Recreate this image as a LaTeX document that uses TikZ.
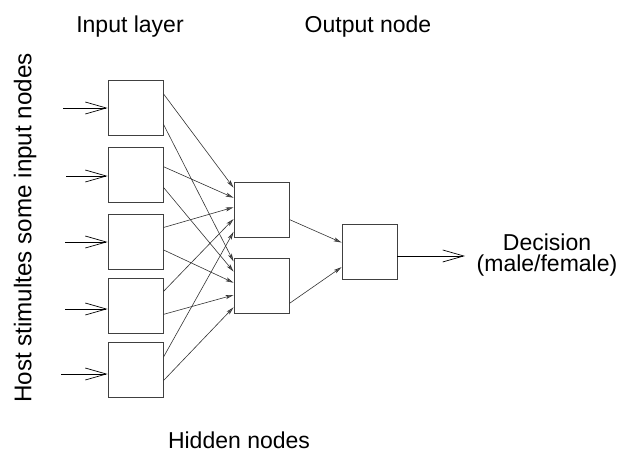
\documentclass[tikz,border=0pt]{standalone}
\usepackage{fontspec}
\setmainfont{Liberation Sans}
\usetikzlibrary{arrows.meta,calc}
\begin{document}
\begin{tikzpicture}[x=1pt,y=-1pt,
  unit/.style={draw=black!75,line width=0.9pt,minimum width=55pt,minimum height=55pt,inner sep=0pt,fill=white},
  lbl/.style={font=\fontsize{23}{21}\selectfont,inner sep=0pt,align=center},
  conn/.style={draw=black!80,line width=0.6pt,-{Stealth[length=8pt,width=4pt,inset=2pt,fill=black!55]}},
  inarrow/.style={draw=black,line width=0.8pt,-{Straight Barb[length=21pt,width=12pt,line width=0.7pt]}}]
\useasboundingbox (0,0) rectangle (630,455);
% input nodes
\node[unit] (i1) at (135.5,107.5) {};
\node[unit] (i2) at (135.5,174.5) {};
\node[unit] (i3) at (135.5,241.5) {};
\node[unit] (i4) at (135.5,306) {};
\node[unit] (i5) at (135.5,370) {};
% hidden nodes
\node[unit] (h1) at (261.5,209.5) {};
\node[unit] (h2) at (261.5,285.5) {};
% output node
\node[unit] (o) at (369.5,251.5) {};
% input arrows
\coordinate (s1) at (63,108);
\coordinate (s2) at (66,176);
\coordinate (s3) at (65,242);
\coordinate (s4) at (65,309);
\coordinate (s5) at (61,374);
\draw[inarrow] (s1) -- (s1 -| i1.west);
\draw[inarrow] (s2) -- (s2 -| i2.west);
\draw[inarrow] (s3) -- (s3 -| i3.west);
\draw[inarrow] (s4) -- (s4 -| i4.west);
\draw[inarrow] (s5) -- (s5 -| i5.west);
% input -> hidden
\draw[conn] ($(i1.north east)!0.255!(i1.south east)$) -- ($(h1.north west)!0.11!(h1.south west)$);
\draw[conn] ($(i1.north east)!0.80!(i1.south east)$) -- ($(h2.north west)!0.07!(h2.south west)$);
\draw[conn] ($(i2.north east)!0.36!(i2.south east)$) -- ($(h1.north west)!0.29!(h1.south west)$);
\draw[conn] ($(i2.north east)!0.73!(i2.south east)$) -- ($(h2.north west)!0.25!(h2.south west)$);
\draw[conn] ($(i3.north east)!0.25!(i3.south east)$) -- ($(h1.north west)!0.46!(h1.south west)$);
\draw[conn] ($(i3.north east)!0.65!(i3.south east)$) -- ($(h2.north west)!0.45!(h2.south west)$);
\draw[conn] ($(i4.north east)!0.24!(i4.south east)$) -- ($(h1.north west)!0.67!(h1.south west)$);
\draw[conn] ($(i4.north east)!0.65!(i4.south east)$) -- ($(h2.north west)!0.67!(h2.south west)$);
\draw[conn] ($(i5.north east)!0.27!(i5.south east)$) -- ($(h1.north west)!0.90!(h1.south west)$);
\draw[conn] ($(i5.north east)!0.69!(i5.south east)$) -- ($(h2.north west)!0.89!(h2.south west)$);
% hidden -> output
\draw[conn] ($(h1.north east)!0.68!(h1.south east)$) -- ($(o.north west)!0.34!(o.south west)$);
\draw[conn] ($(h2.north east)!0.82!(h2.south east)$) -- ($(o.north west)!0.78!(o.south west)$);
% output arrow
\coordinate (oe) at ($(o.north east)!0.58!(o.south east)$);
\coordinate (dec) at (465,0);
\draw[inarrow] (oe) -- (oe -| dec);
% labels
\node[lbl,anchor=base] (tin) at (130,32) {Input layer};
\node[lbl,anchor=base] (tout) at (368,32) {Output node};
\node[lbl,anchor=base] (thid) at (239,448) {Hidden nodes};
\node[lbl] (tdec) at (547,255) {Decision\\(male/female)};
\node[lbl,rotate=90,font=\fontsize{24.2}{24}\selectfont] (thost) at (25,228) {Host stimultes some input nodes};
\end{tikzpicture}
\end{document}
